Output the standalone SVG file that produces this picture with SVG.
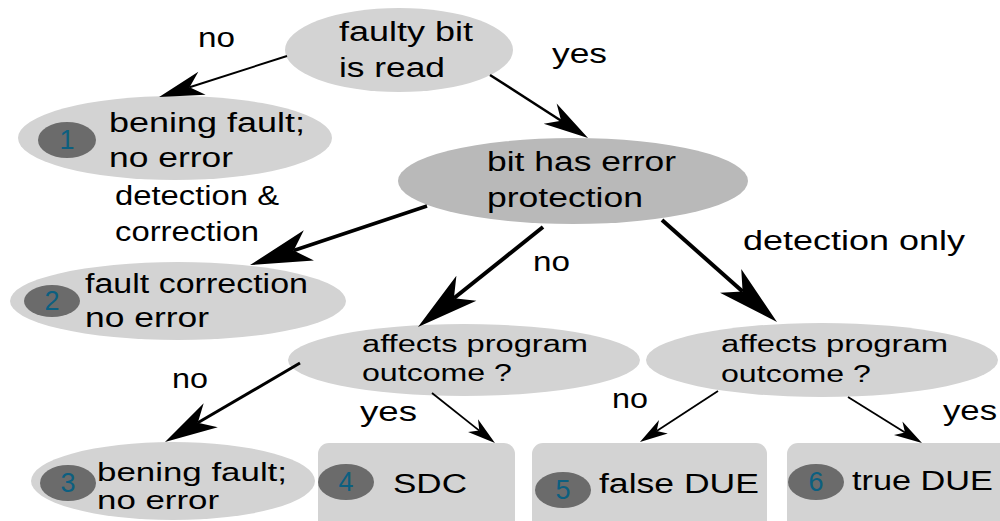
<svg xmlns="http://www.w3.org/2000/svg" width="1000" height="521" viewBox="0 0 1000 521">
<style>
text{font-family:"Liberation Sans",Arial,sans-serif;fill:#000;}
.t{font-size:27px;}
.t3{font-size:25px;}
.s{font-size:23px;}
.num{font-size:27px;fill:#0c5f80;text-anchor:middle;}
.light{fill:#d3d3d3;}
.dark{fill:#b9b9b9;}
.badge{fill:#6b6b6b;}
.c{stroke:#000;fill:none;}
</style>
<defs>
<marker id="aL" markerUnits="userSpaceOnUse" viewBox="-20 -20 70 40" markerWidth="70" markerHeight="40" refX="0" refY="0" orient="auto" overflow="visible">
<path d="M46,0 L-16,-16 L0,0 L-16,16 Z" fill="#000"/>
</marker>
<marker id="aM" markerUnits="userSpaceOnUse" viewBox="-20 -20 60 40" markerWidth="60" markerHeight="40" refX="0" refY="0" orient="auto" overflow="visible">
<path d="M38,0 L-15,-14 L0,0 L-15,14 Z" fill="#000"/>
</marker>
<marker id="aS" markerUnits="userSpaceOnUse" viewBox="-20 -20 60 40" markerWidth="60" markerHeight="40" refX="0" refY="0" orient="auto" overflow="visible">
<path d="M32,0 L-13,-12 L0,0 L-13,12 Z" fill="#000"/>
</marker>
<marker id="aT" markerUnits="userSpaceOnUse" viewBox="-20 -20 50 40" markerWidth="50" markerHeight="40" refX="0" refY="0" orient="auto" overflow="visible">
<path d="M20,0 L-8,-8 L0,0 L-8,8 Z" fill="#000"/>
</marker>
</defs>

<g id="n-faulty">
<ellipse class="light" cx="399" cy="50" rx="114" ry="42"/>
<text class="t" x="339" y="41" textLength="134" lengthAdjust="spacingAndGlyphs">faulty bit</text>
<text class="t" x="339" y="77" textLength="106" lengthAdjust="spacingAndGlyphs">is read</text>
</g>

<g id="n1">
<ellipse class="light" cx="175" cy="138" rx="157" ry="42"/>
<ellipse class="badge" cx="67" cy="140" rx="29" ry="18"/>
<text class="num" x="67" y="149">1</text>
<text class="t" x="109" y="132" textLength="196" lengthAdjust="spacingAndGlyphs">bening fault;</text>
<text class="t" x="109" y="167" textLength="124" lengthAdjust="spacingAndGlyphs">no error</text>
</g>

<g id="n-protect">
<ellipse class="dark" cx="573" cy="181" rx="175" ry="43"/>
<text class="t" x="487" y="171" textLength="189" lengthAdjust="spacingAndGlyphs">bit has error</text>
<text class="t" x="487" y="207" textLength="156" lengthAdjust="spacingAndGlyphs">protection</text>
</g>

<g id="n2">
<ellipse class="light" cx="178" cy="301" rx="168" ry="39"/>
<ellipse class="badge" cx="52" cy="301" rx="28" ry="16"/>
<text class="num" x="52" y="310">2</text>
<text class="t" x="85" y="293" textLength="223" lengthAdjust="spacingAndGlyphs">fault correction</text>
<text class="t" x="85" y="327" textLength="124" lengthAdjust="spacingAndGlyphs">no error</text>
</g>

<g id="n-affects1">
<ellipse class="light" cx="464" cy="360" rx="176" ry="36"/>
<text class="s" x="362" y="352" textLength="226" lengthAdjust="spacingAndGlyphs">affects program</text>
<text class="s" x="362" y="381" textLength="150" lengthAdjust="spacingAndGlyphs">outcome ?</text>
</g>

<g id="n-affects2">
<ellipse class="light" cx="822" cy="360" rx="176" ry="37"/>
<text class="s" x="721" y="352" textLength="227" lengthAdjust="spacingAndGlyphs">affects program</text>
<text class="s" x="721" y="382" textLength="150" lengthAdjust="spacingAndGlyphs">outcome ?</text>
</g>

<g id="n3">
<ellipse class="light" cx="173" cy="481" rx="142" ry="39"/>
<ellipse class="badge" cx="68" cy="483" rx="28" ry="18"/>
<text class="num" x="68" y="492">3</text>
<text class="t3" x="97" y="481" textLength="190" lengthAdjust="spacingAndGlyphs">bening fault;</text>
<text class="t3" x="97" y="509" textLength="122" lengthAdjust="spacingAndGlyphs">no error</text>
</g>

<g id="n4">
<rect class="light" x="318" y="443" width="197" height="95" rx="11"/>
<ellipse class="badge" cx="346" cy="482" rx="28" ry="18"/>
<text class="num" x="346" y="491">4</text>
<text class="t" x="393" y="493" textLength="74" lengthAdjust="spacingAndGlyphs">SDC</text>
</g>

<g id="n5">
<rect class="light" x="532" y="443" width="235" height="95" rx="11"/>
<ellipse class="badge" cx="563" cy="490" rx="28" ry="18"/>
<text class="num" x="563" y="499">5</text>
<text class="t" x="599" y="493" textLength="160" lengthAdjust="spacingAndGlyphs">false DUE</text>
</g>

<g id="n6">
<rect class="light" x="787" y="443" width="230" height="95" rx="11"/>
<ellipse class="badge" cx="816" cy="482" rx="28" ry="18"/>
<text class="num" x="816" y="491">6</text>
<text class="t" x="852" y="490" textLength="141" lengthAdjust="spacingAndGlyphs">true DUE</text>
</g>

<g id="connectors">
<line class="c" x1="287" y1="56" x2="189.6" y2="87.2" stroke-width="2" marker-end="url(#aS)"/>
<line class="c" x1="490" y1="75" x2="561.1" y2="120.7" stroke-width="2.5" marker-end="url(#aS)"/>
<line class="c" x1="427" y1="206" x2="293.7" y2="250.5" stroke-width="3.5" marker-end="url(#aL)"/>
<line class="c" x1="543" y1="227" x2="453.9" y2="298.3" stroke-width="4" marker-end="url(#aL)"/>
<line class="c" x1="662" y1="220" x2="742.6" y2="291.5" stroke-width="4" marker-end="url(#aL)"/>
<line class="c" x1="300" y1="363" x2="197.8" y2="422.8" stroke-width="3" marker-end="url(#aM)"/>
<line class="c" x1="432" y1="393" x2="479.3" y2="430.6" stroke-width="1.8" marker-end="url(#aT)"/>
<line class="c" x1="718" y1="391" x2="656.7" y2="431.1" stroke-width="1.8" marker-end="url(#aT)"/>
<line class="c" x1="848" y1="397" x2="905" y2="432.4" stroke-width="1.8" marker-end="url(#aT)"/>
</g>

<g id="labels">
<text class="t" x="198" y="47" textLength="37" lengthAdjust="spacingAndGlyphs">no</text>
<text class="t" x="552" y="63" textLength="55" lengthAdjust="spacingAndGlyphs">yes</text>
<text class="t" x="115" y="205" textLength="164" lengthAdjust="spacingAndGlyphs">detection &amp;</text>
<text class="t" x="115" y="241" textLength="144" lengthAdjust="spacingAndGlyphs">correction</text>
<text class="t" x="533" y="271" textLength="37" lengthAdjust="spacingAndGlyphs">no</text>
<text class="t" x="743" y="250" textLength="222" lengthAdjust="spacingAndGlyphs">detection only</text>
<text class="t" x="172" y="388" textLength="36" lengthAdjust="spacingAndGlyphs">no</text>
<text class="t" x="360" y="421" textLength="57" lengthAdjust="spacingAndGlyphs">yes</text>
<text class="t" x="612" y="408" textLength="36" lengthAdjust="spacingAndGlyphs">no</text>
<text class="t" x="943" y="420" textLength="54" lengthAdjust="spacingAndGlyphs">yes</text>
</g>
</svg>
